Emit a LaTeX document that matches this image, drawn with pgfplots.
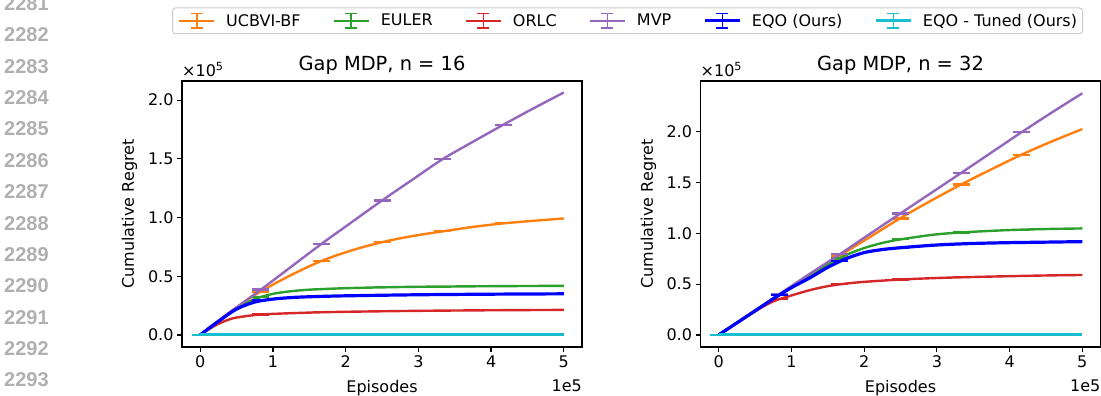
\documentclass[border=0pt]{standalone}
\usepackage{pgfplots}
\pgfplotsset{compat=1.18}
\usepackage{fontspec}
\setmainfont{DejaVu Sans}
\newfontfamily\lnfont{Liberation Sans}
\definecolor{c1}{HTML}{FF7F0E}
\definecolor{c2}{HTML}{2CA02C}
\definecolor{c3}{HTML}{D62728}
\definecolor{c4}{HTML}{9467BD}
\definecolor{c5}{HTML}{0000FF}
\definecolor{c6}{HTML}{17BECF}
\definecolor{lngray}{HTML}{B0B0B0}
\newcommand{\fs}{\fontsize{16pt}{19pt}\selectfont}
\pgfplotsset{
  gapstyle/.style={
    scale only axis, width=400pt, height=266pt, clip=false,
    xmin=-0.25, xmax=5.25,
    xtick={0,1,2,3,4,5},
    ytick={0,0.5,1,1.5,2},
    scaled y ticks=false, scaled x ticks=false,
    /pgf/number format/assume math mode=true,
    yticklabel style={/pgf/number format/.cd, fixed, fixed zerofill, precision=1},
    tick align=outside, tick pos=left,
    major tick length=5pt,
    axis line style={line width=1.2pt},
    every tick/.style={line width=1.2pt, black},
    ticklabel style={font=\fs},
    every axis x label/.style={at={(axis description cs:0.5,0)}, yshift=-45.5pt, anchor=base, font=\fs},
    every axis title/.style={at={(axis description cs:0.5,1)}, yshift=10pt, anchor=base, font=\fontsize{19.4pt}{23pt}\selectfont},
    every axis plot/.append style={line width=2.4pt},
    legend image code/.code={
      \path[draw=none, fill=none] (0pt,-8pt) rectangle (47pt,8pt);
      \draw[#1, sharp corners] (0pt,0pt) -- (35pt,0pt);
      \draw[#1, sharp corners, line width=1.8pt] (17.5pt,-8pt) -- (17.5pt,8pt);
      \draw[#1, sharp corners, line width=1.8pt] (11.5pt,-7.3pt) -- (23.5pt,-7.3pt) (11.5pt,7.3pt) -- (23.5pt,7.3pt);
    },
  },
  eb/.style={forget plot, draw=none, mark=none,
    error bars/.cd, y dir=both, y explicit,
    error bar style={draw=#1, line width=1.5pt, solid},
    error mark options={draw=#1, rotate=90, line width=1.5pt, mark size=8.5pt, solid}},
}
\begin{document}
\begin{tikzpicture}
\useasboundingbox (0,0) rectangle (1101pt,396pt);
% line numbers
\foreach \k in {0,...,12}{
  \pgfmathtruncatemacro{\num}{2281+\k}
  \node[anchor=west, text=lngray, font=\lnfont\bfseries\fontsize{20pt}{23pt}\selectfont, inner sep=0pt] at (4pt,{(392.4-31.36*\k)*1pt}) {\num};
}
% ---------------- left axis ----------------
\begin{axis}[gapstyle, at={(182pt,49pt)}, anchor=south west,
  ymin=-0.103, ymax=2.163,
  title={Gap MDP, n = 16},
  xlabel={Episodes},
  ylabel={Cumulative Regret},
  every axis y label/.style={at={(axis description cs:-0.13125,0.5)}, rotate=90, anchor=center, font=\fs},
  legend columns=6,
  legend style={at={(axis description cs:-0.025,1.2763)}, anchor=north west,
    draw=black!20, line width=1pt, rounded corners=3pt, fill=white,
    font=\fs, inner xsep=5.5pt, inner ysep=3pt,
    nodes={inner xsep=0pt, inner ysep=3pt},
    /tikz/every even column/.append style={column sep=32pt}},
  legend cell align=left,
]
\addplot[c1, smooth] coordinates {(0,0) (0.25,0.12) (0.5,0.235) (0.833,0.37) (1.25,0.51) (1.667,0.63) (2.083,0.72) (2.5,0.79) (2.917,0.842) (3.333,0.882) (3.75,0.92) (4.167,0.95) (4.583,0.972) (5,0.992)};
\addlegendentry{UCBVI-BF}
\addplot[eb=c1] coordinates {(0,0)+-(0,0.002) (0.833,0.37)+-(0,0.003) (1.667,0.63)+-(0,0.003) (2.5,0.79)+-(0,0.003) (3.333,0.882)+-(0,0.003) (4.167,0.95)+-(0,0.003)};
\addplot[c2, smooth] coordinates {(0,0) (0.25,0.115) (0.5,0.225) (0.75,0.305) (1,0.35) (1.25,0.372) (1.5,0.385) (2,0.398) (2.5,0.405) (3,0.41) (4,0.415) (5,0.418)};
\addlegendentry{EULER}
\addplot[eb=c2] coordinates {(0,0)+-(0,0.002) (0.833,0.325)+-(0,0.003) (1.667,0.39)+-(0,0.003) (2.5,0.405)+-(0,0.003) (3.333,0.411)+-(0,0.003) (4.167,0.415)+-(0,0.003)};
\addplot[c3, smooth] coordinates {(0,0) (0.1,0.04) (0.2,0.078) (0.3,0.108) (0.4,0.132) (0.5,0.148) (0.75,0.169) (1,0.179) (1.5,0.19) (2,0.197) (3,0.205) (4,0.21) (5,0.213)};
\addlegendentry{ORLC}
\addplot[eb=c3] coordinates {(0,0)+-(0,0.002) (0.833,0.174)+-(0,0.003) (1.667,0.193)+-(0,0.003) (2.5,0.201)+-(0,0.003) (3.333,0.207)+-(0,0.003) (4.167,0.21)+-(0,0.003)};
\addplot[c4, smooth] coordinates {(0,0) (0.25,0.12) (0.5,0.235) (0.833,0.385) (1.25,0.58) (1.667,0.775) (2.083,0.96) (2.5,1.145) (2.917,1.322) (3.333,1.497) (3.75,1.645) (4.167,1.79) (4.583,1.93) (5,2.065)};
\addlegendentry{MVP}
\addplot[eb=c4] coordinates {(0,0)+-(0,0.002) (0.833,0.385)+-(0,0.004) (1.667,0.775)+-(0,0.004) (2.5,1.145)+-(0,0.004) (3.333,1.497)+-(0,0.004) (4.167,1.79)+-(0,0.004)};
\addplot[c5, smooth, line width=3.2pt] coordinates {(0,0) (0.25,0.115) (0.5,0.22) (0.75,0.28) (1,0.305) (1.25,0.318) (1.5,0.325) (2,0.333) (3,0.342) (4,0.347) (5,0.35)};
\addlegendentry{EQO (Ours)}
\addplot[eb=c5] coordinates {(0,0)+-(0,0.002) (0.833,0.295)+-(0,0.003) (1.667,0.328)+-(0,0.003) (2.5,0.338)+-(0,0.003) (3.333,0.344)+-(0,0.003) (4.167,0.347)+-(0,0.003)};
\addplot[c6, line width=3pt] coordinates {(0,0) (1,0) (2,0) (3,0) (4,0) (5,0)};
\addlegendentry{EQO - Tuned (Ours)}
\addplot[eb=c6] coordinates {(0,0)+-(0,0.001) (0.833,0)+-(0,0.001) (1.667,0)+-(0,0.001) (2.5,0)+-(0,0.001) (3.333,0)+-(0,0.001) (4.167,0)+-(0,0.001)};
\node[anchor=base west, font=\fs, inner sep=0pt] at (axis description cs:0,1) [yshift=4pt] {×10\textsuperscript{5}};
\node[anchor=base east, font=\fs, inner sep=0pt] at (axis description cs:1,0) [yshift=-44.7pt] {1e5};
\end{axis}
% ---------------- right axis ----------------
\begin{axis}[gapstyle, at={(700.5pt,49pt)}, anchor=south west,
  ymin=-0.119, ymax=2.499,
  title={Gap MDP, n = 32},
  xlabel={Episodes},
  ylabel={Cumulative Regret},
  every axis y label/.style={at={(axis description cs:-0.13,0.5)}, rotate=90, anchor=center, font=\fs},
]
\addplot[c1, smooth] coordinates {(0,0) (0.25,0.12) (0.5,0.24) (0.833,0.40) (1.25,0.59) (1.667,0.78) (2.083,0.965) (2.5,1.15) (2.917,1.32) (3.333,1.48) (3.75,1.63) (4.167,1.775) (4.583,1.905) (5,2.026)};
\addplot[eb=c1] coordinates {(0,0)+-(0,0.002) (0.833,0.40)+-(0,0.004) (1.667,0.775)+-(0,0.005) (2.5,1.145)+-(0,0.005) (3.333,1.478)+-(0,0.005) (4.167,1.773)+-(0,0.005)};
\addplot[c2, smooth] coordinates {(0,0) (0.25,0.12) (0.5,0.24) (0.75,0.355) (1,0.47) (1.25,0.585) (1.5,0.69) (1.75,0.785) (2,0.855) (2.25,0.905) (2.5,0.94) (3,0.99) (3.5,1.015) (4,1.032) (4.5,1.042) (5,1.048)};
\addplot[eb=c2] coordinates {(0,0)+-(0,0.002) (0.833,0.395)+-(0,0.003) (1.667,0.755)+-(0,0.003) (2.5,0.94)+-(0,0.003) (3.333,1.008)+-(0,0.003) (4.167,1.036)+-(0,0.003)};
\addplot[c3, smooth] coordinates {(0,0) (0.25,0.118) (0.5,0.232) (0.75,0.33) (1,0.388) (1.25,0.44) (1.5,0.48) (1.75,0.505) (2,0.522) (2.5,0.545) (3,0.56) (3.5,0.57) (4,0.578) (4.5,0.585) (5,0.59)};
\addplot[eb=c3] coordinates {(0,0)+-(0,0.002) (0.833,0.355)+-(0,0.004) (1.667,0.5)+-(0,0.003) (2.5,0.545)+-(0,0.003) (3.333,0.567)+-(0,0.003) (4.167,0.58)+-(0,0.003)};
\addplot[c4, smooth] coordinates {(0,0) (0.25,0.12) (0.5,0.24) (0.833,0.40) (1.25,0.6) (1.667,0.795) (2.083,0.996) (2.5,1.196) (2.917,1.395) (3.333,1.594) (3.75,1.795) (4.167,1.996) (4.583,2.19) (5,2.378)};
\addplot[eb=c4] coordinates {(0,0)+-(0,0.002) (0.833,0.40)+-(0,0.004) (1.667,0.795)+-(0,0.005) (2.5,1.196)+-(0,0.005) (3.333,1.594)+-(0,0.005) (4.167,1.996)+-(0,0.005)};
\addplot[c5, smooth, line width=3.2pt] coordinates {(0,0) (0.25,0.118) (0.5,0.236) (0.75,0.355) (1,0.465) (1.25,0.56) (1.5,0.665) (1.75,0.75) (2,0.81) (2.25,0.84) (2.5,0.858) (3,0.885) (3.5,0.9) (4,0.908) (4.5,0.913) (5,0.918)};
\addplot[eb=c5] coordinates {(0,0)+-(0,0.002) (0.833,0.392)+-(0,0.004) (1.667,0.73)+-(0,0.004) (2.5,0.858)+-(0,0.003) (3.333,0.896)+-(0,0.003) (4.167,0.91)+-(0,0.003)};
\addplot[c6, line width=3pt] coordinates {(0,0) (1,0) (2,0) (3,0) (4,0) (5,0)};
\addplot[eb=c6] coordinates {(0,0)+-(0,0.001) (0.833,0)+-(0,0.001) (1.667,0)+-(0,0.001) (2.5,0)+-(0,0.001) (3.333,0)+-(0,0.001) (4.167,0)+-(0,0.001)};
\node[anchor=base west, font=\fs, inner sep=0pt] at (axis description cs:0,1) [yshift=4pt] {×10\textsuperscript{5}};
\node[anchor=base east, font=\fs, inner sep=0pt] at (axis description cs:1,0) [yshift=-44.7pt] {1e5};
\end{axis}
\end{tikzpicture}
\end{document}
